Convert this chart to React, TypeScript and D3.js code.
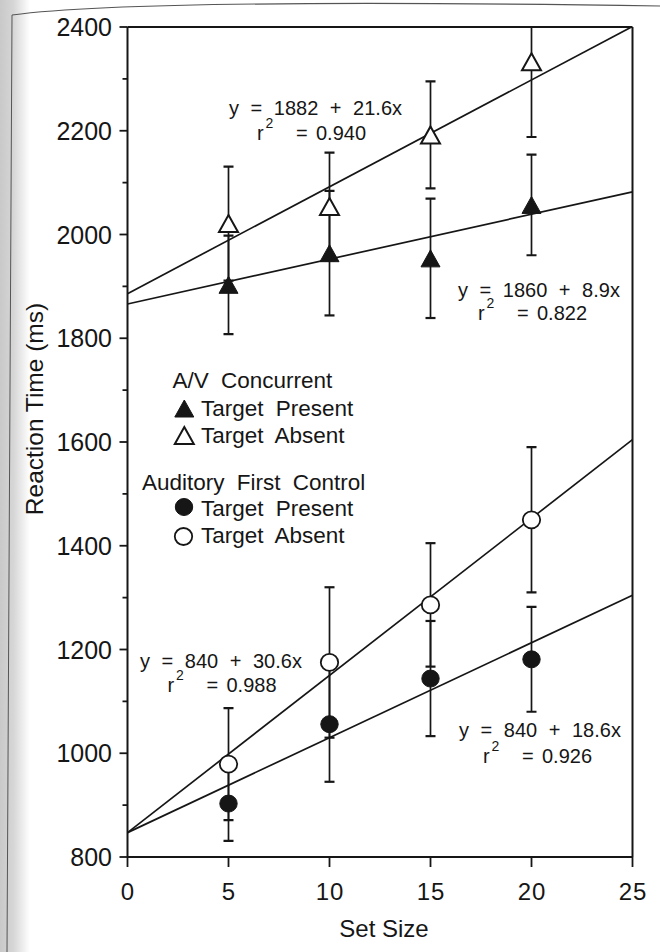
import React from "react";
import * as d3 from "d3";

// ---------- data ----------
const setSizes = [5, 10, 15, 20];

const avPresent = [1903, 1964, 1954, 2057];
const avPresentErr = [95, 120, 115, 97];
const avAbsent = [2021, 2054, 2192, 2333];
const avAbsentErr = [110, 104, 103, 145];

const afPresent = [903, 1056, 1144, 1181];
const afPresentErr = [72, 111, 111, 101];
const afAbsent = [979, 1175, 1286, 1450];
const afAbsentErr = [108, 145, 119, 140];

// regression lines as drawn: [intercept, slope]
const fitAvPresent = [1866, 8.65];
const fitAvAbsent = [1886, 20.6];
const fitAfPresent = [847, 18.3];
const fitAfAbsent = [847, 30.3];

const eqTexts = [
  "y = 1882 + 21.6x",
  "y = 1860 + 8.9x",
  "y = 840 + 30.6x",
  "y = 840 + 18.6x",
];
const r2Texts = ["0.940", "0.822", "0.988", "0.926"];

const xTicks = [0, 5, 10, 15, 20, 25];
const yTicks = [800, 1000, 1200, 1400, 1600, 1800, 2000, 2200, 2400];
const yMinorTicks = d3.range(900, 2400, 200);

// ---------- layout ----------
const W = 660;
const H = 952;
const X0 = 127.5, X1 = 632.5, Y0 = 857, Y1 = 27;
const FONT = "'Liberation Sans', Arial, Helvetica, sans-serif";
const INK = "#161616";

const x = d3.scaleLinear().domain([0, 25]).range([X0, X1]);
const y = d3.scaleLinear().domain([800, 2400]).range([Y0, Y1]);

type Series = { vals: number[]; errs: number[]; shape: "tri" | "circ"; filled: boolean };
const series: Series[] = [
  { vals: avAbsent, errs: avAbsentErr, shape: "tri", filled: false },
  { vals: avPresent, errs: avPresentErr, shape: "tri", filled: true },
  { vals: afAbsent, errs: afAbsentErr, shape: "circ", filled: false },
  { vals: afPresent, errs: afPresentErr, shape: "circ", filled: true },
];
const fits = [fitAvPresent, fitAvAbsent, fitAfPresent, fitAfAbsent];

// equation label anchors (eq line start, baseline) and r line
const eqPos = [
  { ex: 229, ey: 115, rx: 257, ry: 140 },
  { ex: 458, ey: 297, rx: 478, ry: 320 },
  { ex: 140, ey: 668, rx: 167.5, ry: 692 },
  { ex: 459, ey: 737, rx: 483, ry: 763 },
];

function Marker({ cx, cy, shape, filled }: { cx: number; cy: number; shape: string; filled: boolean }) {
  if (shape === "tri") {
    const w = 19, h = 17;
    const p = d3.path();
    p.moveTo(cx, cy - h / 2);
    p.lineTo(cx + w / 2, cy + h / 2);
    p.lineTo(cx - w / 2, cy + h / 2);
    p.closePath();
    return (
      <path
        d={p.toString()}
        fill={filled ? INK : "#fff"}
        stroke={INK}
        strokeWidth={filled ? 1 : 2}
        strokeLinejoin="miter"
      />
    );
  }
  return (
    <ellipse cx={cx} cy={cy} rx={8.7} ry={8.5} fill={filled ? INK : "#fff"} stroke={INK} strokeWidth={filled ? 1 : 1.8} />
  );
}

export default function App() {
  const line = d3
    .line<number>()
    .x((d) => x(d))
    .y((d) => d);

  return (
    <svg
      width={W}
      height={H}
      viewBox={`0 0 ${W} ${H}`}
      style={{ position: "absolute", left: 0, top: 0, background: "#fff" }}
      fontFamily={FONT}
    >
      <defs>
        <linearGradient id="edge" x1="0" x2="1" y1="0" y2="0">
          <stop offset="0" stopColor="#c9c9c9" />
          <stop offset="0.45" stopColor="#d6d6d6" />
          <stop offset="1" stopColor="#ffffff" />
        </linearGradient>
        <clipPath id="plot">
          <rect x={X0} y={Y1} width={X1 - X0} height={Y0 - Y1} />
        </clipPath>
      </defs>
      <rect x={0} y={0} width={W} height={H} fill="#fff" />
      {/* scanned page edge */}
      <rect x={0} y={0} width={30} height={H} fill="url(#edge)" />
      <path d="M12,15 L7,952" stroke="#555" strokeWidth={1} fill="none" />
      <path d="M12,15 Q140,-2 660,6" stroke="#555" strokeWidth={1.2} fill="none" />

      {/* frame */}
      <g stroke={INK} strokeWidth={2} fill="none">
        <line x1={X0} x2={X1} y1={Y1} y2={Y1} />
        <line x1={X1} x2={X1} y1={Y1} y2={Y0} />
        <line x1={X0} x2={X0} y1={Y1} y2={Y0} />
        <line x1={X0} x2={X1} y1={Y0} y2={Y0} />
      </g>

      {/* y ticks */}
      <g stroke={INK} strokeWidth={1.8}>
        {yTicks.map((t) => (
          <line key={"yt" + t} x1={X0 - 8} x2={X0} y1={y(t)} y2={y(t)} />
        ))}
        {yMinorTicks.map((t) => (
          <line key={"ym" + t} x1={X0 - 5} x2={X0} y1={y(t)} y2={y(t)} />
        ))}
        {xTicks.map((t) => (
          <line key={"xt" + t} x1={x(t)} x2={x(t)} y1={Y0} y2={Y0 + 10} />
        ))}
      </g>
      <g fill={INK} fontSize={25}>
        {yTicks.map((t) => (
          <text key={"yl" + t} x={112} y={y(t)} dy="0.36em" textAnchor="end">
            {t}
          </text>
        ))}
      </g>
      <g fill={INK} fontSize={24} letterSpacing={1}>
        {xTicks.map((t) => (
          <text key={"xl" + t} x={x(t) + 0.5} y={900} textAnchor="middle">
            {t}
          </text>
        ))}
      </g>

      {/* axis titles */}
      <text x={384} y={937} textAnchor="middle" fontSize={24} fill={INK}>
        Set Size
      </text>
      <text
        transform="translate(43,409) rotate(-90)"
        textAnchor="middle"
        fontSize={24.5}
        fill={INK}
      >
        Reaction Time (ms)
      </text>

      {/* plot content */}
      <g clipPath="url(#plot)">
        {/* error bars */}
        <g stroke={INK} strokeWidth={1.7}>
          {series.map((s, si) =>
            setSizes.map((k, i) => {
              const lo = y(s.vals[i] - s.errs[i]);
              const hi = y(s.vals[i] + s.errs[i]);
              const cx = x(k);
              return (
                <g key={`e${si}-${i}`}>
                  <line x1={cx} x2={cx} y1={lo} y2={hi} />
                  <line x1={cx - 5} x2={cx + 5} y1={lo} y2={lo} strokeWidth={2.2} />
                  <line x1={cx - 5} x2={cx + 5} y1={hi} y2={hi} strokeWidth={2.2} />
                </g>
              );
            })
          )}
        </g>
        {/* regression lines */}
        <g stroke={INK} strokeWidth={1.7} fill="none">
          {fits.map((f, i) => {
            const xs = [0, 25];
            const p = d3
              .line<number>()
              .x((d) => x(d))
              .y((d) => y(f[0] + f[1] * d))(xs);
            return <path key={"f" + i} d={p || ""} />;
          })}
        </g>
        {/* markers */}
        {series.map((s, si) =>
          setSizes.map((k, i) => (
            <Marker key={`m${si}-${i}`} cx={x(k)} cy={y(s.vals[i])} shape={s.shape} filled={s.filled} />
          ))
        )}
      </g>

      {/* equations */}
      <g fill={INK} fontSize={20}>
        {eqTexts.map((t, i) => {
          const p = eqPos[i];
          return (
            <g key={"eq" + i}>
              <text x={p.ex} y={p.ey} wordSpacing={6}>
                {t}
              </text>
              <text x={p.rx} y={p.ry}>r</text>
              <text x={p.rx + 8.5} y={p.ry - 12} fontSize={14}>
                2
              </text>
              <text x={p.rx + 39} y={p.ry}>=</text>
              <text x={p.rx + 59} y={p.ry}>{r2Texts[i]}</text>
            </g>
          );
        })}
      </g>

      {/* legend */}
      <g fill={INK} fontSize={22.5} wordSpacing={6}>
        <text x={172.5} y={388}>A/V Concurrent</text>
        <Marker cx={184.3} cy={408.5} shape="tri" filled={true} />
        <text x={201} y={416}>Target Present</text>
        <Marker cx={184.3} cy={435.5} shape="tri" filled={false} />
        <text x={201} y={443}>Target Absent</text>
        <text x={142} y={490}>Auditory First Control</text>
        <Marker cx={184} cy={507} shape="circ" filled={true} />
        <text x={201} y={516}>Target Present</text>
        <Marker cx={183.5} cy={536.5} shape="circ" filled={false} />
        <text x={201} y={543}>Target Absent</text>
      </g>
    </svg>
  );
}
